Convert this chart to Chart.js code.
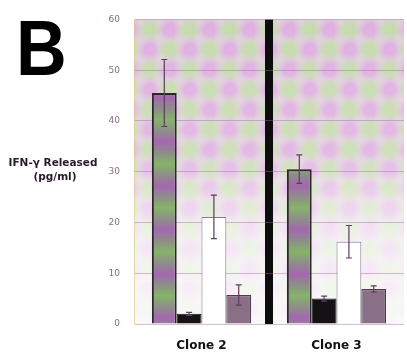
<!DOCTYPE html>
<html>
<head>
<meta charset="utf-8">
<script src="https://cdn.jsdelivr.net/npm/chart.js@4"></script>
<style>
  html, body { margin: 0; padding: 0; background: #fff; }
  #wrap { width: 407px; height: 361px; }
</style>
</head>
<body>
<div id="wrap"><canvas id="myChart" width="407" height="361"></canvas></div>
<script>
// values
const categories = ['Clone 2', 'Clone 3'];
const seriesA = [45.5, 30.5];
const errA = [6.6, 2.8];
const seriesB = [2.0, 5.0];
const errB = [0.3, 0.5];
const seriesC = [21.1, 16.2];
const errC = [4.3, 3.2];
const seriesD = [5.7, 6.9];
const errD = [2.0, 0.6];
const yTicks = [0, 10, 20, 30, 40, 50, 60];

const errors = [errA, errB, errC, errD];

// soft pink / green checker like the scanned backdrop
const makeBackdrop = (ctx) => {
  const c = document.createElement('canvas');
  c.width = 40; c.height = 40;
  const g = c.getContext('2d');
  g.fillStyle = '#e2d4e0';
  g.fillRect(0, 0, 40, 40);
  const blob = (x, y, col) => {
    const r = g.createRadialGradient(x, y, 0, x, y, 17);
    r.addColorStop(0, col);
    r.addColorStop(0.35, col);
    r.addColorStop(1, 'rgba(226,212,224,0)');
    g.fillStyle = r;
    g.fillRect(x - 18, y - 18, 36, 36);
  };
  for (let gx = -1; gx <= 2; gx++) {
    for (let gy = -1; gy <= 2; gy++) {
      const green = (gx + gy) % 2 === 0;
      blob(10 + gx * 20, 10 + gy * 20, green ? 'rgba(180,224,140,0.6)' : 'rgba(222,150,226,0.6)');
    }
  }
  return ctx.createPattern(c, 'repeat');
};

// first bar: grey with purple and green patches down its length
const makeBarPattern = (ctx) => {
  const c = document.createElement('canvas');
  c.width = 1; c.height = 44;
  const g = c.getContext('2d');
  const lg = g.createLinearGradient(0, 0, 0, 44);
  lg.addColorStop(0, '#8f8a8c');
  lg.addColorStop(0.22, '#a468b0');
  lg.addColorStop(0.45, '#8f8a8c');
  lg.addColorStop(0.72, '#86b468');
  lg.addColorStop(1, '#8f8a8c');
  g.fillStyle = lg;
  g.fillRect(0, 0, 1, 44);
  return ctx.createPattern(c, 'repeat');
};

const backdropPlugin = {
  id: 'backdrop',
  beforeDraw(chart) {
    const { ctx, chartArea: a } = chart;
    ctx.save();
    ctx.fillStyle = makeBackdrop(ctx);
    ctx.fillRect(a.left, a.top, a.right - a.left, a.bottom - a.top);
    const fade = ctx.createLinearGradient(0, a.top, 0, a.bottom);
    fade.addColorStop(0, 'rgba(255,255,255,0)');
    fade.addColorStop(0.45, 'rgba(255,255,255,0.15)');
    fade.addColorStop(0.7, 'rgba(255,255,255,0.65)');
    fade.addColorStop(1, 'rgba(255,255,255,0.85)');
    ctx.fillStyle = fade;
    ctx.fillRect(a.left, a.top, a.right - a.left, a.bottom - a.top);
    ctx.restore();
  }
};

const errorBarPlugin = {
  id: 'errorBars',
  afterDatasetsDraw(chart) {
    const { ctx } = chart;
    const y = chart.scales.y;
    ctx.save();
    ctx.strokeStyle = '#5a3e5c';
    ctx.lineWidth = 1.2;
    chart.data.datasets.forEach((ds, di) => {
      const meta = chart.getDatasetMeta(di);
      meta.data.forEach((bar, i) => {
        const v = ds.data[i], e = errors[di][i];
        const top = y.getPixelForValue(v + e);
        const bot = y.getPixelForValue(v - e);
        ctx.beginPath();
        ctx.moveTo(bar.x, top); ctx.lineTo(bar.x, bot);
        ctx.moveTo(bar.x - 3, top); ctx.lineTo(bar.x + 3, top);
        ctx.moveTo(bar.x - 3, bot); ctx.lineTo(bar.x + 3, bot);
        ctx.stroke();
      });
    });
    ctx.restore();
  }
};

const labelsPlugin = {
  id: 'sideLabels',
  afterDraw(chart) {
    const { ctx } = chart;
    ctx.save();
    ctx.fillStyle = '#000';
    ctx.font = 'bold 78px "Liberation Sans", Arial, sans-serif';
    ctx.textBaseline = 'alphabetic';
    ctx.translate(16, 75);
    ctx.scale(0.9, 1);
    ctx.fillText('B', 0, 0);
    ctx.restore();
    ctx.save();
    ctx.fillStyle = '#2a182c';
    ctx.font = 'bold 10.5px "DejaVu Sans", sans-serif';
    ctx.textAlign = 'center';
    ctx.textBaseline = 'middle';
    ctx.fillText('IFN-γ Released', 53, 163);
    ctx.fillText('(pg/ml)', 55, 177);
    ctx.restore();
  }
};

const ctx = document.getElementById('myChart').getContext('2d');
const barPattern = makeBarPattern(ctx);

new Chart('myChart', {
  type: 'bar',
  data: {
    labels: categories,
    datasets: [
      { label: 'A', data: seriesA, backgroundColor: barPattern, borderColor: '#2a262a', borderWidth: 2 },
      { label: 'B', data: seriesB, backgroundColor: '#141214', borderColor: '#141214', borderWidth: 1 },
      { label: 'C', data: seriesC, backgroundColor: '#ffffff', borderColor: '#8a7a8a', borderWidth: 1 },
      { label: 'D', data: seriesD, backgroundColor: '#8a7086', borderColor: '#4a3e48', borderWidth: 1.2 }
    ]
  },
  options: {
    responsive: false,
    animation: false,
    categoryPercentage: 0.735,
    barPercentage: 1,
    layout: { padding: { left: 98, right: 3, top: 12, bottom: 0 } },
    plugins: {
      legend: { display: false },
      tooltip: { enabled: false }
    },
    scales: {
      x: {
        border: { display: false },
        grid: {
          offset: true,
          drawTicks: false,
          color: (c) => c.index === 1 ? '#0c0c0c' : 'rgba(0,0,0,0)',
          lineWidth: (c) => c.index === 1 ? 8 : 0
        },
        ticks: {
          padding: 15,
          color: '#111',
          font: { family: '"DejaVu Sans", sans-serif', size: 12, weight: 'bold' }
        },
        afterFit: (s) => { s.height = 37; }
      },
      y: {
        min: 0,
        max: 60,
        border: { display: true, color: 'rgba(220,200,120,0.6)' },
        afterBuildTicks: (s) => { s.ticks = yTicks.map(v => ({ value: v })); },
        afterFit: (s) => { s.width = 36; },
        grid: {
          drawTicks: false,
          color: 'rgba(160,110,160,0.45)',
          lineWidth: 1
        },
        ticks: {
          padding: 14,
          color: '#8a6a8c',
          font: { family: '"DejaVu Sans", sans-serif', size: 9 }
        }
      }
    }
  },
  plugins: [backdropPlugin, errorBarPlugin, labelsPlugin]
});
</script>
</body>
</html>
